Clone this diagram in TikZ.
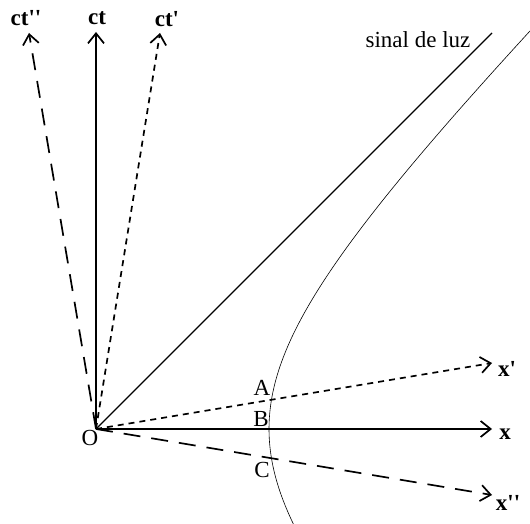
\documentclass[tikz,border=0pt]{standalone}
\usepackage{fontspec}
\setmainfont{Liberation Serif}[Ligatures=TeXOff]
\usetikzlibrary{arrows.meta}
\tikzset{
  axis/.style={line width=1.7pt,-{Straight Barb[length=10pt,width=16pt]}},
  dotaxis/.style={axis,dash pattern=on 6pt off 5pt},
  dashaxis/.style={axis,dash pattern=on 17pt off 11pt},
  lbl/.style={inner sep=0pt,font=\fontsize{23}{26}\selectfont\bfseries},
  pt/.style={inner sep=0pt,font=\fontsize{23}{26}\selectfont},
}
\begin{document}
\begin{tikzpicture}[x=1pt,y=-1pt]
\useasboundingbox (0,0) rectangle (530,524);
\clip (0,0) rectangle (530,524);
\coordinate (O) at (96,429);
\coordinate (ctE) at (96,32);
\coordinate (ctpE) at (160,33);
\coordinate (ctppE) at (29,33);
\coordinate (xE) at (492,429);
\coordinate (xpE) at (492,363);
\coordinate (xppE) at (492,495);
\coordinate (lightE) at (492,33);
% axes
\draw[axis] (O) -- (ctE);
\draw[axis] (O) -- (xE);
\draw[dotaxis] (O) -- (ctpE);
\draw[dotaxis] (O) -- (xpE);
\draw[dashaxis] (O) -- (ctppE);
\draw[dashaxis] (O) -- (xppE);
% light signal
\draw[line width=1.2pt] (O) -- (lightE);
% hyperbola
\draw[line width=0.6pt,domain=-0.54:1.58,samples=120,variable=\t]
  plot ({96+173*cosh(\t)},{429-173*sinh(\t)});
% labels
\node[lbl] (lct) at (97,18) {ct};
\node[lbl] (lctp) at (167,19) {ct'};
\node[lbl] (lctpp) at (26,18) {ct''};
\node[lbl] (lx) at (505,434) {x};
\node[lbl] (lxp) at (507,369) {x'};
\node[lbl] (lxpp) at (508,503) {x''};
\node[pt] (lO) at (90,438) {O};
\node[pt] (lA) at (262,388) {A};
\node[pt] (lB) at (261,419) {B};
\node[pt] (lC) at (262,470) {C};
\node[pt] (llight) at (418,40) {sinal de luz};
\end{tikzpicture}
\end{document}
